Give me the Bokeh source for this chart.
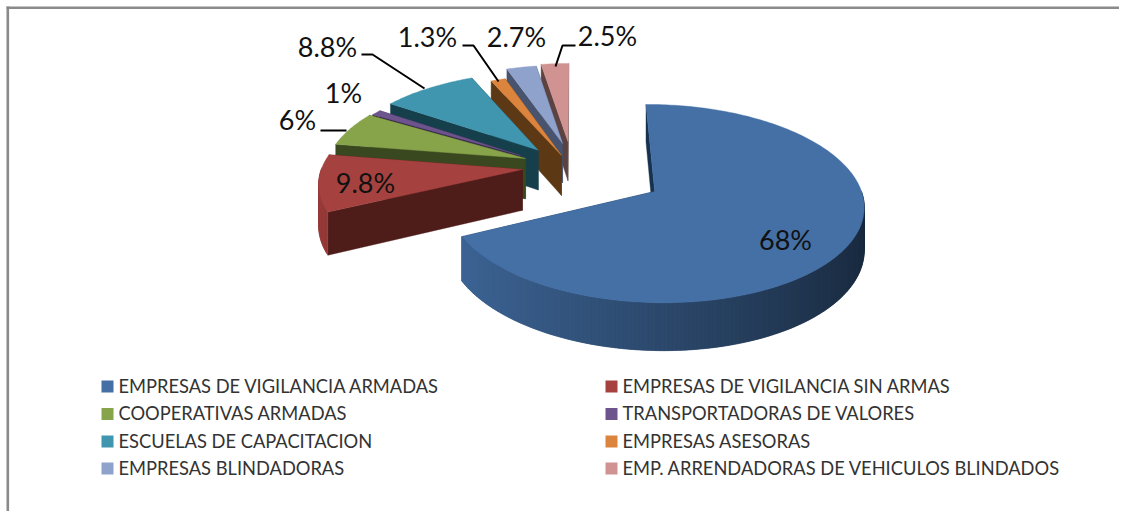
from math import sin, cos, radians
from bokeh.plotting import figure
from bokeh.embed import file_html
from bokeh.resources import INLINE
from bokeh.core.properties import value

categories = ["EMPRESAS DE VIGILANCIA ARMADAS", "EMPRESAS DE VIGILANCIA SIN ARMAS",
              "COOPERATIVAS ARMADAS", "TRANSPORTADORAS DE VALORES",
              "ESCUELAS DE CAPACITACION", "EMPRESAS ASESORAS",
              "EMPRESAS BLINDADORAS", "EMP. ARRENDADORAS DE VEHICULOS BLINDADOS"]
values = [68, 9.8, 6, 1, 8.8, 1.3, 2.7, 2.5]
labels = ["68%", "9.8%", "6%", "1%", "8.8%", "1.3%", "2.7%", "2.5%"]

top_colors = ["#4470A6", "#A5423F", "#87A44A", "#6E548D", "#3F96AE", "#DB843D", "#8FA2CC", "#D09392"]
wall_colors = ["#17324F", "#4E1D1A", "#3A4820", "#33264A", "#163F4C", "#5C3815", "#48536E", "#5C4342"]

# projection of the pie plane
W, H = 1119, 511
Ox, Oy, R, B, K, D = 589.5, 172.0, 205.0, 94.5, 0.1215, 41.0
START = -0.5
# explosion and radius factor of each slice in the pie plane
ex = [0.308, -0.331, -0.320, -0.347, -0.260, -0.142, -0.139, -0.112]
ey = [-0.196, 0.032, 0.151, 0.184, 0.243, 0.184, 0.319, 0.342]
rad = [0.985, 0.985, 0.98, 0.93, 0.98, 1.0, 1.0, 1.0]


def proj(x, y, base=False):
    w = 1 + K * y
    return Ox + R * x / w, Oy - B * y / w + (D / w if base else 0)


def hex_scale(c, f):
    r, g, b = int(c[1:3], 16), int(c[3:5], 16), int(c[5:7], 16)
    return "#%02x%02x%02x" % (int(r * f), int(g * f), int(b * f))


total = sum(values)
spans = []
a = START
for v in values:
    spans.append((a, a + 360 * v / total))
    a += 360 * v / total

xs, ys, fills = [], [], []


def poly(points, color):
    xs.append([q[0] for q in points])
    ys.append([q[1] for q in points])
    fills.append(color)


for i in reversed(range(len(values))):
    a0, a1 = spans[i]
    cx, cy = ex[i], ey[i]
    n = max(6, int(a1 - a0))
    ang = [a0 + (a1 - a0) * j / n for j in range(n + 1)]
    rim = [(cx + rad[i] * sin(radians(t)), cy + rad[i] * cos(radians(t))) for t in ang]
    # radial walls: the far edge first, then the near one
    for edge in (rim[-1], rim[0]):
        poly([proj(cx, cy), proj(*edge), proj(*edge, base=True), proj(cx, cy, base=True)], wall_colors[i])
    # outer wall, only where it faces the viewer, shaded band by band
    for j in range(n):
        mid = radians((ang[j] + ang[j + 1]) / 2)
        if cos(mid) > 0:
            continue
        f = 0.65 - 0.27 * sin(mid)
        k = min(j + 2, n)
        poly([proj(*rim[j]), proj(*rim[k]), proj(*rim[k], base=True), proj(*rim[j], base=True)],
             hex_scale(top_colors[i], f))
    # top face
    poly([proj(cx, cy)] + [proj(*q) for q in rim], top_colors[i])

p = figure(width=W, height=H, x_range=(0, W), y_range=(H, 0),
           output_backend="svg", toolbar_location=None, min_border=0,
           x_axis_type="linear", y_axis_type="linear")
p.axis.visible = False
p.grid.visible = False
p.outline_line_color = None
p.background_fill_color = "white"
p.border_fill_color = "white"

# chart frame: top and left edges only
p.quad(left=[6], right=[W], top=[6], bottom=[8.6], fill_color="#8A8A8A", line_color=None)
p.quad(left=[6], right=[8.6], top=[6], bottom=[H], fill_color="#8A8A8A", line_color=None)

p.patches(xs, ys, fill_color=fills, line_color=fills, line_width=0.4)

# leader lines
leaders = [([320, 346], [130, 130]),
           ([361, 372, 424], [54, 54, 88]),
           ([462, 473, 498], [45, 45, 81]),
           ([575, 562, 555], [45, 45, 66])]
for lx, ly in leaders:
    p.line(lx, ly, line_color="#000000", line_width=2)

# data labels
label_x = [785, 365, 297, 343, 327, 427, 516, 607]
label_y = [239, 182, 119, 92, 46, 36, 36, 35]
p.text(label_x, label_y, text=labels, text_font=value("Lato"), text_font_size="27px",
       text_color="#111111", text_align="center", text_baseline="middle")

# legend
col_marker = [101, 605]
col_text = [118, 622]
row_y = [386, 413.5, 441, 468]
for i, name in enumerate(categories):
    c, r = i % 2, i // 2
    p.quad(left=[col_marker[c]], right=[col_marker[c] + 12], top=[row_y[r] - 6], bottom=[row_y[r] + 6],
           fill_color=top_colors[i], line_color=None)
    p.text([col_text[c]], [row_y[r] - 1], text=[name], text_font=value("Lato"), text_font_size="18.3px",
           text_color="#333333", text_align="left", text_baseline="middle")

open("out.html", "w").write(file_html(p, INLINE))
